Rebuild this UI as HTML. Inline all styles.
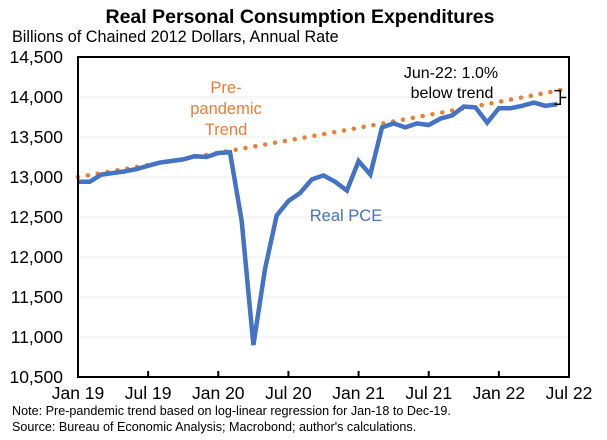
<!DOCTYPE html>
<html><head><meta charset="utf-8">
<style>
body{margin:0;background:#fff;}
svg{display:block;font-family:"Liberation Sans",Arial,sans-serif;}
</style></head>
<body>
<svg id="chart" width="607" height="440" viewBox="0 0 607 440">
<text x="300" y="23" text-anchor="middle" font-size="19.5" font-weight="bold">Real Personal Consumption Expenditures</text>
<text x="12" y="42" font-size="16.2">Billions of Chained 2012 Dollars, Annual Rate</text>
<g id="grid"></g>
<g id="yticks"></g>
<g id="xticks"></g>
<g id="series"></g>
<rect x="78" y="57" width="491" height="320" fill="none" stroke="#000" stroke-width="2"/>
<g font-size="16.5" fill="#ED7D31" text-anchor="middle">
<text x="226" y="93" fill="#ED7D31">Pre-</text>
<text x="226" y="114" fill="#ED7D31">pandemic</text>
<text x="226" y="135" fill="#ED7D31">Trend</text>
</g>
<text x="346" y="221" font-size="16.5" fill="#4472C4" text-anchor="middle">Real PCE</text>
<g font-size="16" text-anchor="middle">
<text x="451" y="78">Jun-22: 1.0%</text>
<text x="452" y="98">below trend</text>
</g>
<text x="12" y="415" font-size="12.6">Note: Pre-pandemic trend based on log-linear regression for Jan-18 to Dec-19.</text>
<text x="12" y="431" font-size="12.6">Source: Bureau of Economic Analysis; Macrobond; author's calculations.</text>
</svg>
<script>
const yTickValues=[10500,11000,11500,12000,12500,13000,13500,14000,14500];
const yTickLabels=["10,500","11,000","11,500","12,000","12,500","13,000","13,500","14,000","14,500"];
const xTickMonths=[0,6,12,18,24,30,36,42];
const xTickLabels=["Jan 19","Jul 19","Jan 20","Jul 20","Jan 21","Jul 21","Jan 22","Jul 22"];
const pceSeries=[12940,12940,13030,13050,13070,13100,13140,13180,13200,13220,13260,13250,13300,13310,12450,10900,11850,12520,12700,12800,12970,13020,12940,12830,13200,13030,13620,13670,13620,13670,13650,13730,13770,13880,13870,13680,13860,13860,13890,13930,13890,13910];
const trendValues=[13000,13025,13050,13075,13100,13125,13150,13175,13200,13225,13250,13276,13302,13328,13354,13380,13406,13432,13458,13484,13510,13536,13562,13588,13615,13641,13668,13695,13722,13749,13776,13803,13830,13857,13884,13911,13939,13967,13995,14023,14051,14079,14107];
const NS="http://www.w3.org/2000/svg";
const L=78,R=569,T=57,B=377;
const x=m=>L+(R-L)*m/42;
const y=v=>B-(v-10500)/4000*(B-T);
const grid=document.getElementById('grid'),yt=document.getElementById('yticks'),xt=document.getElementById('xticks'),ser=document.getElementById('series');
function mk(tag,attrs,parent){const e=document.createElementNS(NS,tag);for(const k in attrs)e.setAttribute(k,attrs[k]);parent.appendChild(e);return e;}
yTickValues.forEach((v,i)=>{
  if(i>0&&i<yTickValues.length-1){const g=mk('line',{x1:L,x2:R,y1:y(v),y2:y(v),stroke:'#ececec','stroke-width':1},grid);
  
  }
  const t=mk('text',{x:63,y:y(v)+6,'text-anchor':'end','font-size':17.5},yt);t.textContent=yTickLabels[i];
  
  
});
xTickMonths.forEach((m,i)=>{
  const k=mk('line',{x1:x(m),x2:x(m),y1:B,y2:B-6,stroke:'#000','stroke-width':2},xt);
  
  
  const t=mk('text',{x:x(m),y:399,'text-anchor':'middle','font-size':17.5},xt);t.textContent=xTickLabels[i];
  
  
});
const tp=mk('path',{d:trendValues.map((v,i)=>(i?'L':'M')+x(i).toFixed(1)+','+y(v).toFixed(1)).join(''),fill:'none',stroke:'#ED7D31','stroke-width':4.5,'stroke-linecap':'round','stroke-dasharray':'0 10'},ser);


const pp=mk('path',{d:pceSeries.map((v,i)=>(i?'L':'M')+x(i).toFixed(1)+','+y(v).toFixed(1)).join(''),fill:'none',stroke:'#4472C4','stroke-width':4.5,'stroke-linejoin':'miter'},ser);


const last=pceSeries.length-1;
const bx=x(last)+3,y1=y(pceSeries[last]),y2=y(trendValues[last]);
const br=mk('path',{d:`M${bx-6},${y2} H${bx} V${y1} H${bx-6} M${bx},${(y1+y2)/2} H${bx+6}`,fill:'none',stroke:'#000','stroke-width':1.5},ser);


</script>
</body></html>
